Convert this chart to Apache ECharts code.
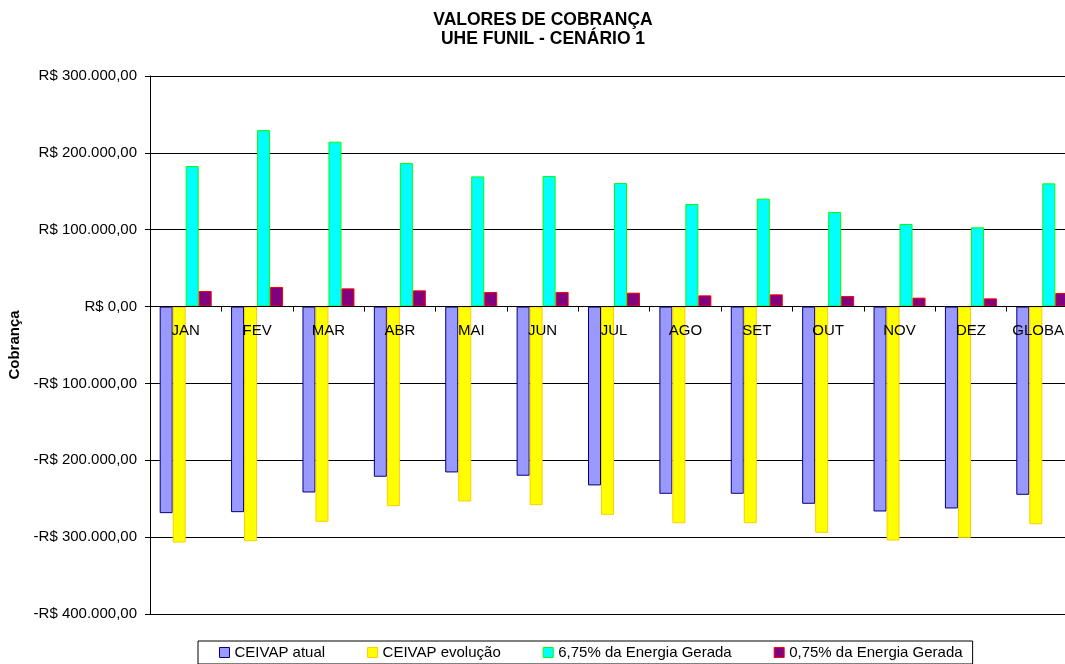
<!DOCTYPE html>
<html>
<head>
<meta charset="utf-8">
<title>Valores de Cobrança - UHE Funil</title>
<script src="https://cdn.jsdelivr.net/npm/echarts@6/dist/echarts.min.js"></script>
<style>
  html, body { margin: 0; padding: 0; background: #fff; overflow: hidden; }
  #chart { width: 1065px; height: 664px; }
</style>
</head>
<body>
<div id="chart"></div>
<script>
// valores (R$)
const categories = ['JAN', 'FEV', 'MAR', 'ABR', 'MAI', 'JUN', 'JUL', 'AGO', 'SET', 'OUT', 'NOV', 'DEZ', 'GLOBAL']
const ceivapAtual = [-268800, -267500, -241900, -221400, -215800, -220100, -232700, -243600, -243600, -256600, -266600, -262700, -244900]
const ceivapEvolucao = [-307000, -305300, -280000, -259700, -253600, -258400, -271000, -281900, -281900, -294400, -304400, -300900, -283200]
const energia675 = [182800, 229600, 214500, 186700, 169400, 169800, 160700, 133400, 140400, 123000, 107400, 103100, 160300]
const energia075 = [20300, 25500, 23700, 21100, 19000, 19000, 18100, 14600, 15900, 13800, 11600, 10700, 17700]
const seriesNames = ['CEIVAP atual', 'CEIVAP evolução', '6,75% da Energia Gerada', '0,75% da Energia Gerada']

const FONT = "'Liberation Sans', Arial, sans-serif"

// formato R$ 100.000,00
function brl(v) {
  const parts = Math.abs(v).toFixed(2).split('.')
  const int = parts[0].replace(/\B(?=(\d{3})+(?!\d))/g, '.')
  return (v < 0 ? '-' : '') + 'R$ ' + int + ',' + parts[1]
}

function barSeries(name, data, fill, border) {
  return {
    name: name,
    type: 'bar',
    data: data,
    barWidth: 13,
    barGap: '0%',
    itemStyle: { color: fill, borderColor: border, borderWidth: 1 },
  }
}

const chart = echarts.init(document.getElementById('chart'))
chart.setOption({
  animation: false,
  backgroundColor: '#fff',
  textStyle: { fontFamily: FONT, color: '#000' },
  title: {
    text: 'VALORES DE COBRANÇA\nUHE FUNIL - CENÁRIO 1',
    left: 543,
    top: 11,
    padding: 0,
    textAlign: 'center',
    textStyle: { fontFamily: FONT, fontSize: 17.5, fontWeight: 'bold', lineHeight: 19, color: '#000' },
  },
  legend: {
    data: seriesNames,
    left: 198,
    top: 641,
    padding: [4, 10, 4, 21],
    itemGap: 42,
    itemWidth: 10,
    itemHeight: 10,
    icon: 'rect',
    borderColor: '#000',
    borderWidth: 1,
    selectedMode: false,
    itemStyle: { borderWidth: 1 },
    textStyle: { fontFamily: FONT, fontSize: 15, color: '#000' },
  },
  grid: {
    left: 150,
    width: 928, // a área do gráfico passa da borda direita (GLOBAL cortado)
    top: 76,
    bottom: 50,
    outerBoundsMode: 'none',
  },
  xAxis: {
    type: 'category',
    data: categories,
    z: 10,
    axisLine: { onZero: false, lineStyle: { color: '#000', width: 1 } },
    axisTick: { show: true, length: 5, interval: 0, lineStyle: { color: '#000' } },
    axisLabel: { interval: 0, margin: 17, fontFamily: FONT, fontSize: 15, color: '#000' },
    splitLine: { show: false },
  },
  yAxis: {
    type: 'value',
    min: -400000,
    max: 300000,
    interval: 100000,
    name: 'Cobrança',
    nameLocation: 'middle',
    nameGap: 124,
    nameTextStyle: { fontFamily: FONT, fontSize: 15, fontWeight: 'bold', color: '#000' },
    axisLine: { show: true, lineStyle: { color: '#000', width: 1 } },
    axisTick: { show: true, length: 5, lineStyle: { color: '#000' } },
    axisLabel: { margin: 13, fontFamily: FONT, fontSize: 15, color: '#000', formatter: brl },
    splitLine: { show: true, lineStyle: { color: '#000', width: 1 } },
  },
  series: [
    barSeries(seriesNames[0], ceivapAtual, '#9999FF', '#000080'),
    barSeries(seriesNames[1], ceivapEvolucao, '#FFFF00', '#FFCC00'),
    barSeries(seriesNames[2], energia675, '#00FFFF', '#00FF00'),
    barSeries(seriesNames[3], energia075, '#800080', '#FF0000'),
  ],
})

// eixo das categorias sobre o zero (rótulos dentro da área)
const yZero = chart.convertToPixel({ yAxisIndex: 0 }, 0)
const yBottom = chart.convertToPixel({ yAxisIndex: 0 }, -400000)
chart.setOption({ xAxis: { offset: yZero - yBottom } })
</script>
</body>
</html>
